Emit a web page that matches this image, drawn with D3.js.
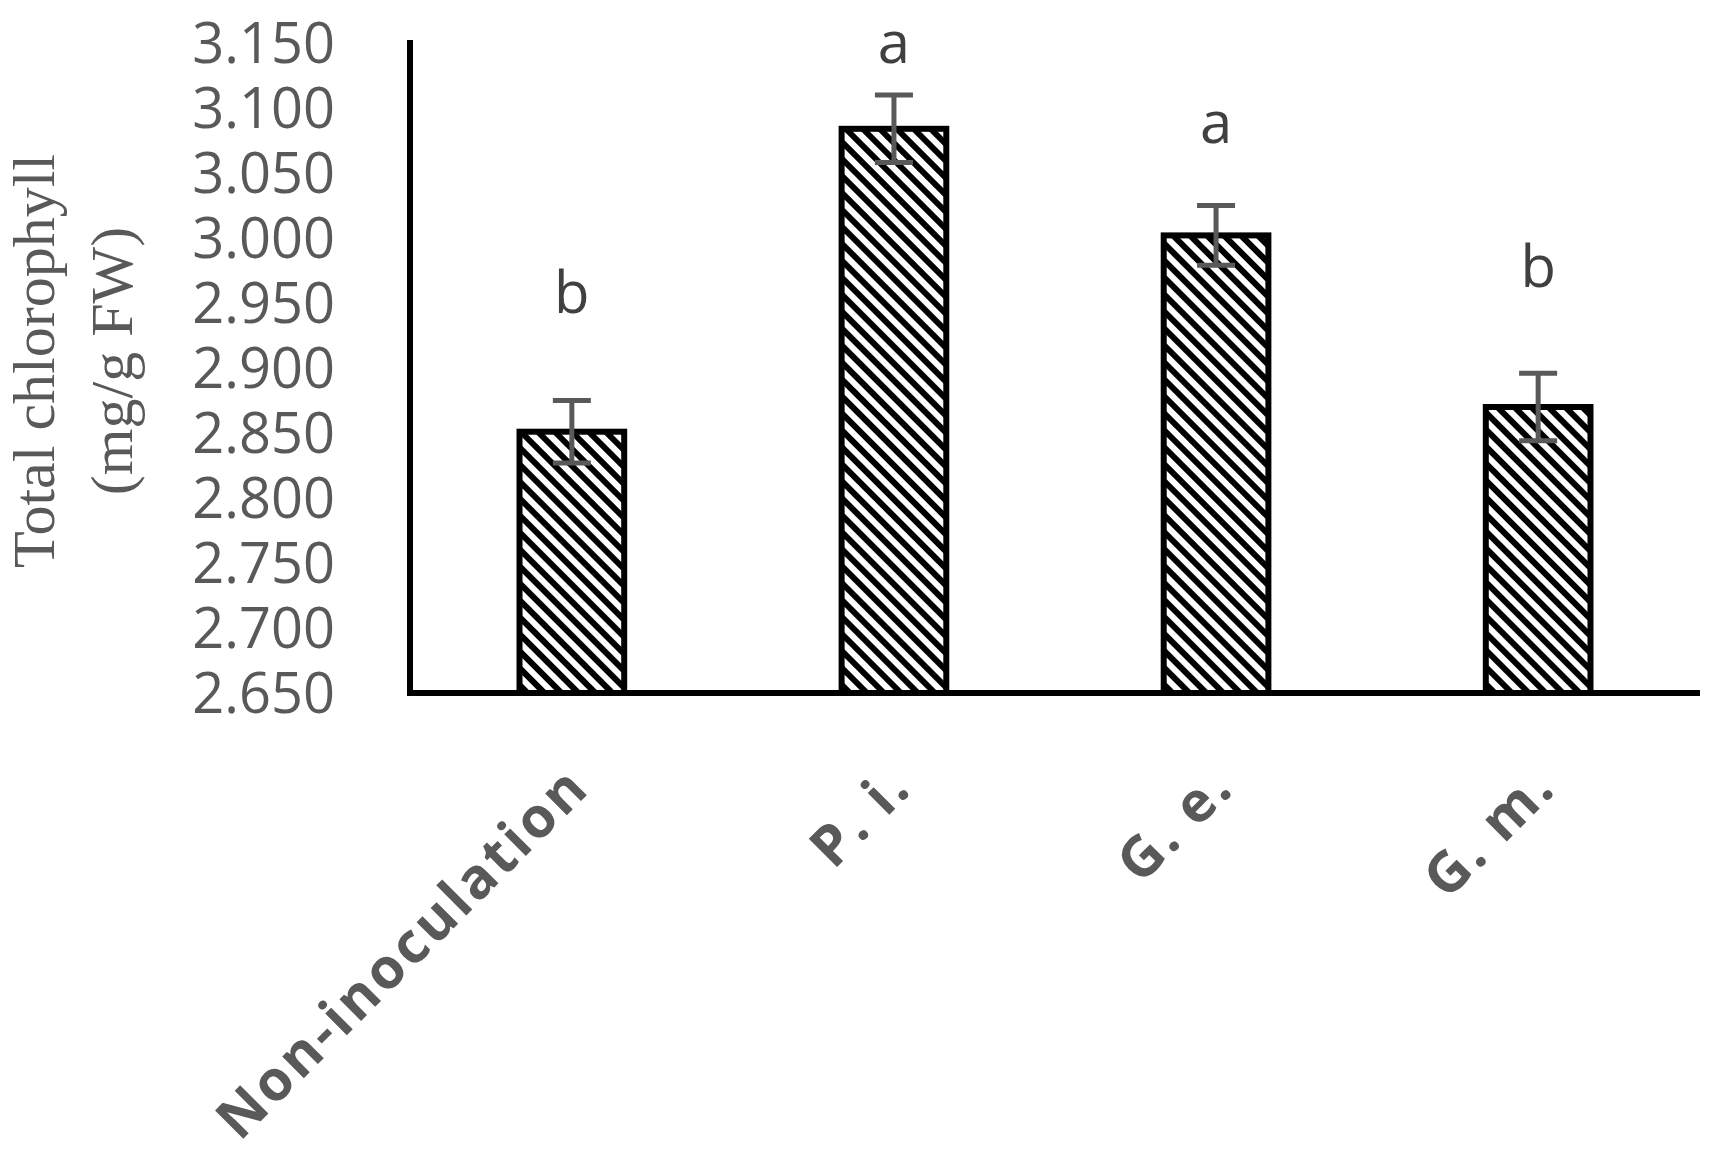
<!DOCTYPE html><html><head><meta charset="utf-8"><script src="https://cdn.jsdelivr.net/npm/d3@7"></script>
<style>body{margin:0;background:#fff}</style></head><body><svg id="c" width="1713" height="1149"></svg>
<script>
const categories=["Non-inoculation","P. i.","G. e.","G. m."];
const values=[2.851,3.084,3.002,2.870];
const errors=[0.024,0.026,0.023,0.026];
const letters=["b","a","a","b"];
const letterY=[2.942,3.135,3.073,2.962];
const ticks=[2.65,2.70,2.75,2.80,2.85,2.90,2.95,3.00,3.05,3.10,3.15];
const svg=d3.select("#c");
const y=d3.scaleLinear().domain([2.65,3.15]).range([693,43]);
const x=d3.scaleBand().domain(categories).range([410,1700]).paddingInner(0.675).paddingOuter(0.34);
const defs=svg.append("defs");
const p=defs.append("pattern").attr("id","hatch").attr("patternUnits","userSpaceOnUse").attr("width",12).attr("height",12).attr("patternTransform","rotate(-45)");
p.append("rect").attr("width",12).attr("height",12).attr("fill","#fff");
p.append("rect").attr("width",6).attr("height",12).attr("fill","#000");
const g=svg.append("g");
g.selectAll("rect.bar").data(values).join("rect").attr("class","bar")
 .attr("x",(d,i)=>x(categories[i])).attr("width",x.bandwidth())
 .attr("y",d=>y(d)).attr("height",d=>y(2.65)-y(d))
 .attr("fill","url(#hatch)").attr("stroke","#000").attr("stroke-width",6);
const cx=i=>x(categories[i])+x.bandwidth()/2;
values.forEach((v,i)=>{
 const e=g.append("g").attr("stroke","#595959").attr("stroke-width",5);
 e.append("line").attr("x1",cx(i)).attr("x2",cx(i)).attr("y1",y(v+errors[i])).attr("y2",y(v-errors[i]));
 [v+errors[i],v-errors[i]].forEach(t=>e.append("line").attr("x1",cx(i)-19).attr("x2",cx(i)+19).attr("y1",y(t)).attr("y2",y(t)));
 g.append("text").attr("x",cx(i)).attr("y",y(letterY[i])).attr("text-anchor","middle")
  .attr("font-family","Open Sans, sans-serif").attr("font-size",58).attr("fill","#404040").text(letters[i]);
});
svg.append("line").attr("x1",410).attr("x2",410).attr("y1",40).attr("y2",696).attr("stroke","#000").attr("stroke-width",6);
svg.append("line").attr("x1",407).attr("x2",1700).attr("y1",693).attr("y2",693).attr("stroke","#000").attr("stroke-width",6);
svg.selectAll("text.tk").data(ticks).join("text").attr("class","tk")
 .attr("x",335).attr("y",d=>y(d)+20).attr("text-anchor","end")
 .attr("font-family","Open Sans, sans-serif").attr("font-size",56).attr("fill","#595959").text(d=>d.toFixed(3));
categories.forEach((c,i)=>{
 svg.append("text").attr("transform",`translate(${cx(i)+20},${790}) rotate(-45)`).attr("text-anchor","end")
  .attr("font-family","Open Sans, sans-serif").attr("font-weight","bold").attr("font-size",56).attr("fill","#595959").attr("letter-spacing",3).text(c);
});
const t=svg.append("text").attr("transform","translate(0,361) rotate(-90)").attr("text-anchor","middle")
 .attr("font-family","Liberation Serif, Times New Roman, serif").attr("font-size",60).attr("fill","#595959");
t.append("tspan").attr("x",0).attr("y",54).text("Total chlorophyll");
t.append("tspan").attr("x",0).attr("y",132).text("(mg/g FW)");
</script></body></html>
